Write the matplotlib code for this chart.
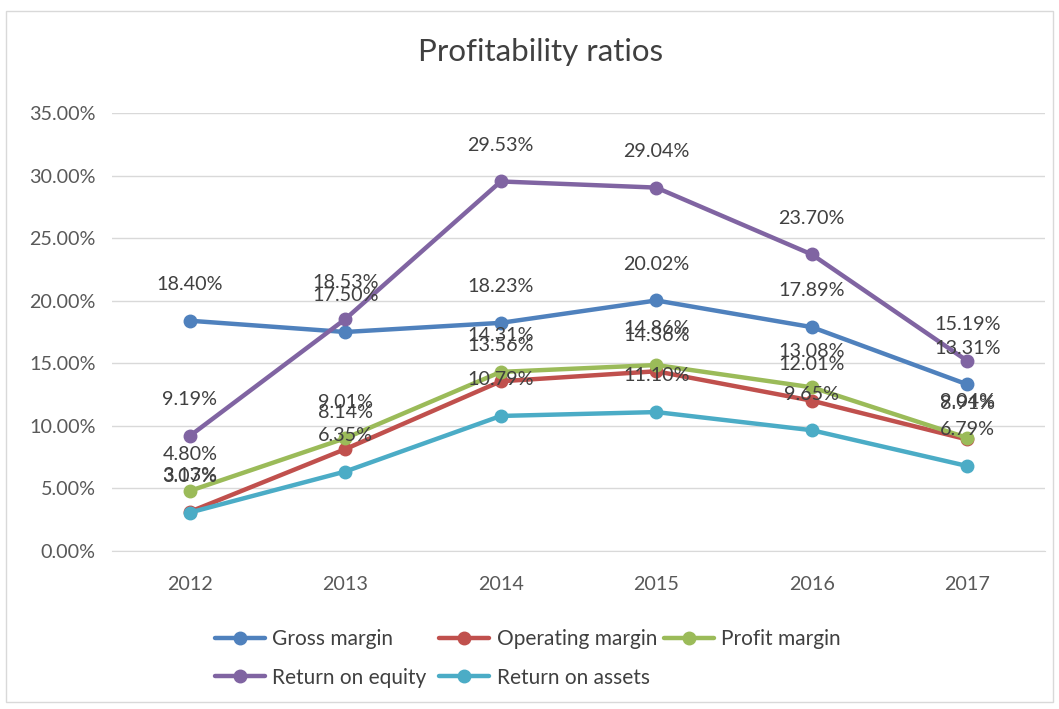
import matplotlib.pyplot as plt
from matplotlib.patches import Rectangle
from matplotlib.ticker import FuncFormatter

plt.rcParams["font.family"] = ["Lato", "DejaVu Sans"]

# Chart data (percent)
years = ["2012", "2013", "2014", "2015", "2016", "2017"]
gross_margin = [18.40, 17.50, 18.23, 20.02, 17.89, 13.31]
operating_margin = [3.13, 8.14, 13.56, 14.36, 12.01, 8.91]
profit_margin = [4.80, 9.01, 14.31, 14.86, 13.08, 9.04]
return_on_equity = [9.19, 18.53, 29.53, 29.04, 23.70, 15.19]
return_on_assets = [3.07, 6.35, 10.79, 11.10, 9.65, 6.79]

series = [
    ("Gross margin", gross_margin, "#4F81BD"),
    ("Operating margin", operating_margin, "#C0504D"),
    ("Profit margin", profit_margin, "#9BBB59"),
    ("Return on equity", return_on_equity, "#8064A2"),
    ("Return on assets", return_on_assets, "#4BACC6"),
]

fig = plt.figure(figsize=(10.59, 7.09), dpi=100)
fig.patch.set_facecolor("white")
# chart border
fig.patches.append(Rectangle((0.006, 0.01), 0.988, 0.975, transform=fig.transFigure,
                             fill=False, edgecolor="#D9D9D9", lw=1))

ax = fig.add_axes([0.1058, 0.2229, 0.881, 0.6177])
x = list(range(len(years)))

lines = {}
for name, vals, color in series:
    (ln,) = ax.plot(x, vals, color=color, lw=3.2, marker="o", markersize=9,
                    label=name, solid_capstyle="round")
    lines[name] = ln
    for xi, v in zip(x, vals):
        ax.annotate(f"{v:.2f}%", (xi, v), xytext=(0, 26), textcoords="offset points",
                    ha="center", va="center", fontsize=14.2, color="#404040")

ax.set_xlim(-0.5, len(years) - 0.5)
ax.set_ylim(0, 35)
ax.set_yticks(range(0, 36, 5))
ax.yaxis.set_major_formatter(FuncFormatter(lambda v, p: f"{v:.2f}%"))
ax.set_xticks(x)
ax.set_xticklabels(years)
ax.grid(axis="y", color="#D9D9D9", lw=1)
ax.set_axisbelow(True)
for s in ["top", "right", "left"]:
    ax.spines[s].set_visible(False)
ax.spines["bottom"].set_color("#D9D9D9")
ax.tick_params(axis="both", length=0, labelsize=14.2, colors="#595959")
ax.tick_params(axis="x", pad=18)
ax.tick_params(axis="y", pad=12)

fig.text(0.51, 0.926, "Profitability ratios", ha="center", va="center",
         fontsize=22.5, color="#404040")

# legend: three columns placed by hand, like the Excel layout
columns = [["Gross margin", "Return on equity"],
           ["Operating margin", "Return on assets"],
           ["Profit margin"]]
col_x = [0.203, 0.415, 0.627]
for names, cx in zip(columns, col_x):
    fig.legend([lines[n] for n in names], names, loc="upper left",
               bbox_to_anchor=(cx, 0.1125), frameon=False, fontsize=15,
               handlelength=2.4, handletextpad=0.35, borderpad=0,
               borderaxespad=0, labelspacing=0.88, labelcolor="#404040")

fig.savefig("out.png", dpi=100, facecolor="white")
